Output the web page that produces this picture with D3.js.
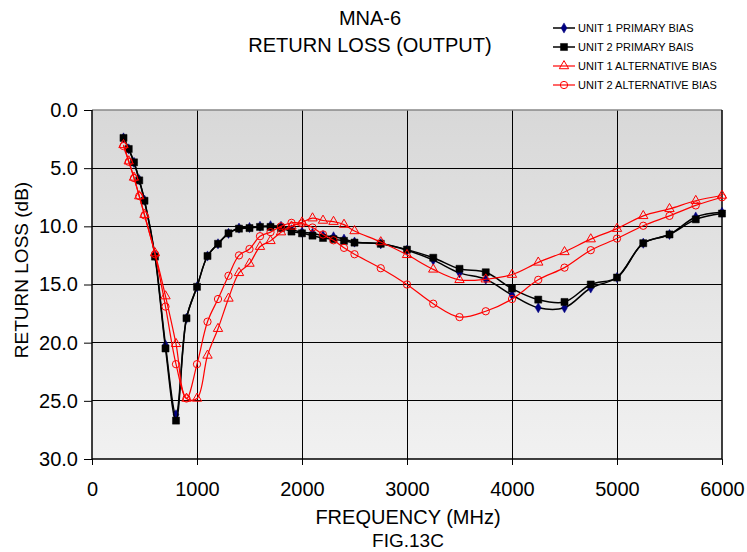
<!DOCTYPE html>
<html>
<head>
<meta charset="utf-8">
<script src="https://cdn.jsdelivr.net/npm/d3@7"></script>
<style>
  body { margin: 0; background: #fff; }
  text { font-family: "Liberation Sans", Arial, sans-serif; fill: #000; }
</style>
</head>
<body>
<script>
// chart data
var freq = [300, 350, 400, 450, 500, 600, 700, 800, 900, 1000, 1100, 1200, 1300, 1400, 1500,
  1600, 1700, 1800, 1900, 2000, 2100, 2200, 2300, 2400, 2500, 2750, 3000, 3250, 3500, 3750,
  4000, 4250, 4500, 4750, 5000, 5250, 5500, 5750, 6000];

var unit1Primary = [2.4, 3.35, 4.5, 6.0, 7.75, 12.5, 20.2, 26.2, 17.9, 15.2, 12.55, 11.5, 10.6, 10.15, 10.1,
  10.0, 9.95, 10.0, 10.3, 10.5, 10.6, 10.8, 10.9, 11.1, 11.35, 11.5, 12.05, 12.9, 14.0, 14.55,
  15.9, 17.0, 17.0, 15.3, 14.4, 11.45, 10.7, 9.2, 8.8];

var unit2Primary = [2.4, 3.35, 4.5, 6.05, 7.8, 12.6, 20.5, 26.7, 17.9, 15.2, 12.55, 11.5, 10.6, 10.2, 10.15,
  10.05, 10.05, 10.15, 10.45, 10.6, 10.8, 11.0, 11.1, 11.25, 11.4, 11.5, 12.0, 12.7, 13.65, 13.95,
  15.35, 16.3, 16.5, 15.0, 14.4, 11.45, 10.7, 9.4, 8.9];

var unit1Alt = [3.0, 4.4, 5.8, 7.4, 9.0, 12.3, 16.0, 20.1, 24.8, 24.8, 21.1, 18.8, 16.2, 14.0, 13.2,
  11.75, 11.25, 10.5, 10.0, 9.65, 9.3, 9.5, 9.6, 9.85, 10.4, 11.35, 12.45, 13.7, 14.6, 14.55,
  14.15, 13.1, 12.2, 11.1, 10.2, 9.1, 8.5, 7.8, 7.35];

var unit2Alt = [3.1, 4.45, 5.85, 7.4, 9.05, 12.4, 16.9, 21.85, 24.8, 21.85, 18.2, 16.25, 14.25, 12.5, 11.95,
  10.85, 10.5, 10.0, 9.7, 9.75, 10.1, 10.7, 11.2, 11.85, 12.4, 13.6, 15.0, 16.65, 17.8, 17.3,
  16.25, 14.6, 13.55, 12.05, 11.05, 9.95, 9.1, 8.2, 7.5];

var seriesNames = ['UNIT 1 PRIMARY BIAS', 'UNIT 2 PRIMARY BAIS', 'UNIT 1 ALTERNATIVE BIAS', 'UNIT 2 ALTERNATIVE BIAS'];
var xTicks = [0, 1000, 2000, 3000, 4000, 5000, 6000];
var yTicks = [0, 5, 10, 15, 20, 25, 30];

var W = 747, H = 552;
var pLeft = 92, pRight = 722, pTop = 110, pBottom = 459;

var svg = d3.select('body').append('svg')
  .attr('width', W)
  .attr('height', H);

var x = d3.scaleLinear().domain([0, 6000]).range([pLeft, pRight]);
var y = d3.scaleLinear().domain([0, 30]).range([pTop, pBottom]);

// plot background gradient
var grad = svg.append('defs').append('linearGradient')
  .attr('id', 'bg').attr('x1', 0).attr('y1', 0).attr('x2', 0).attr('y2', 1);
grad.append('stop').attr('offset', '0%').attr('stop-color', '#d8d8d8');
grad.append('stop').attr('offset', '100%').attr('stop-color', '#f1f1f1');

svg.append('rect')
  .attr('x', pLeft).attr('y', pTop)
  .attr('width', pRight - pLeft).attr('height', pBottom - pTop)
  .attr('fill', 'url(#bg)');

// grid
svg.append('g').selectAll('line').data(xTicks.slice(1, -1)).enter().append('line')
  .attr('x1', function(d) { return x(d); }).attr('x2', function(d) { return x(d); })
  .attr('y1', pTop).attr('y2', pBottom)
  .attr('stroke', '#000').attr('stroke-width', 1).attr('shape-rendering', 'crispEdges');
svg.append('g').selectAll('line').data(yTicks.slice(1, -1)).enter().append('line')
  .attr('x1', pLeft).attr('x2', pRight)
  .attr('y1', function(d) { return y(d); }).attr('y2', function(d) { return y(d); })
  .attr('stroke', '#000').attr('stroke-width', 1).attr('shape-rendering', 'crispEdges');

// frame: top gray, right black
svg.append('line').attr('x1', pLeft).attr('x2', pRight).attr('y1', pTop).attr('y2', pTop)
  .attr('stroke', '#888').attr('stroke-width', 1.5);
svg.append('line').attr('x1', pRight).attr('x2', pRight).attr('y1', pTop).attr('y2', pBottom)
  .attr('stroke', '#000').attr('stroke-width', 1.5);

// axes
var xAxis = d3.axisBottom(x).tickValues(xTicks).tickSize(6).tickPadding(17)
  .tickFormat(d3.format('d'));
var gx = svg.append('g').attr('transform', 'translate(0,' + pBottom + ')').call(xAxis);
gx.select('.domain').attr('stroke-width', 1.5);

var yAxis = d3.axisLeft(y).tickValues(yTicks).tickSize(8).tickPadding(6)
  .tickFormat(d3.format('.1f'));
var gy = svg.append('g').attr('transform', 'translate(' + pLeft + ',0)').call(yAxis);
gy.select('.domain').attr('stroke-width', 1.5);

svg.selectAll('.tick text')
  .style('font-family', '"Liberation Sans", Arial, sans-serif')
  .style('font-size', '20px');
gx.selectAll('.domain').attr('d', 'M' + pLeft + ',0H' + pRight);
gy.selectAll('.domain').attr('d', 'M0,' + pTop + 'V' + pBottom);

// series
var line = d3.line()
  .x(function(d) { return x(d[0]); })
  .y(function(d) { return y(d[1]); })
  .curve(d3.curveCatmullRom.alpha(0.5));

var series = [
  { name: seriesNames[0], vals: unit1Primary, color: '#000', width: 1.5, marker: 'diamond', fill: '#000080', mcolor: '#000080' },
  { name: seriesNames[1], vals: unit2Primary, color: '#000', width: 1.5, marker: 'square', fill: '#000', mcolor: '#000' },
  { name: seriesNames[2], vals: unit1Alt, color: '#ff0000', width: 1.2, marker: 'triangle', fill: 'none', mcolor: '#ff0000' },
  { name: seriesNames[3], vals: unit2Alt, color: '#ff0000', width: 1.2, marker: 'circle', fill: 'none', mcolor: '#ff0000' }
];

var symbolFor = {
  diamond: d3.symbol().type(d3.symbolDiamond).size(30),
  square: d3.symbol().type(d3.symbolSquare).size(50),
  triangle: d3.symbol().type(d3.symbolTriangle).size(38),
  circle: d3.symbol().type(d3.symbolCircle).size(42)
};

series.forEach(function(s) {
  var pts = freq.map(function(f, i) { return [f, s.vals[i]]; });
  svg.append('path')
    .datum(pts)
    .attr('d', line)
    .attr('fill', 'none')
    .attr('stroke', s.color)
    .attr('stroke-width', s.width);
  svg.append('g').selectAll('path').data(pts).enter().append('path')
    .attr('transform', function(d) { return 'translate(' + x(d[0]) + ',' + y(d[1]) + ')'; })
    .attr('d', symbolFor[s.marker])
    .attr('fill', s.fill)
    .attr('stroke', s.mcolor)
    .attr('stroke-width', s.fill === 'none' ? 1 : 0.5);
});

// titles
svg.append('text').attr('x', 370).attr('y', 25).attr('text-anchor', 'middle')
  .style('font-size', '20px').text('MNA-6');
svg.append('text').attr('x', 370).attr('y', 52).attr('text-anchor', 'middle')
  .style('font-size', '20px').text('RETURN LOSS (OUTPUT)');
svg.append('text').attr('x', 408).attr('y', 524).attr('text-anchor', 'middle')
  .style('font-size', '20px').text('FREQUENCY (MHz)');
svg.append('text').attr('x', 408).attr('y', 547).attr('text-anchor', 'middle')
  .style('font-size', '19px').text('FIG.13C');
svg.append('text')
  .attr('transform', 'translate(28,270) rotate(-90)')
  .attr('text-anchor', 'middle')
  .style('font-size', '19px').text('RETURN LOSS (dB)');

// legend
var lg = svg.append('g').attr('transform', 'translate(553,28)');
series.forEach(function(s, i) {
  var row = lg.append('g').attr('transform', 'translate(0,' + (i * 19) + ')');
  row.append('line').attr('x1', 0).attr('x2', 22).attr('y1', 0).attr('y2', 0)
    .attr('stroke', s.color).attr('stroke-width', s.width);
  row.append('path').attr('transform', 'translate(11,0)')
    .attr('d', symbolFor[s.marker])
    .attr('fill', s.fill).attr('stroke', s.mcolor)
    .attr('stroke-width', s.fill === 'none' ? 1 : 0.5);
  row.append('text').attr('x', 25).attr('y', 4)
    .style('font-size', '11px').text(s.name);
});
</script>
</body>
</html>
